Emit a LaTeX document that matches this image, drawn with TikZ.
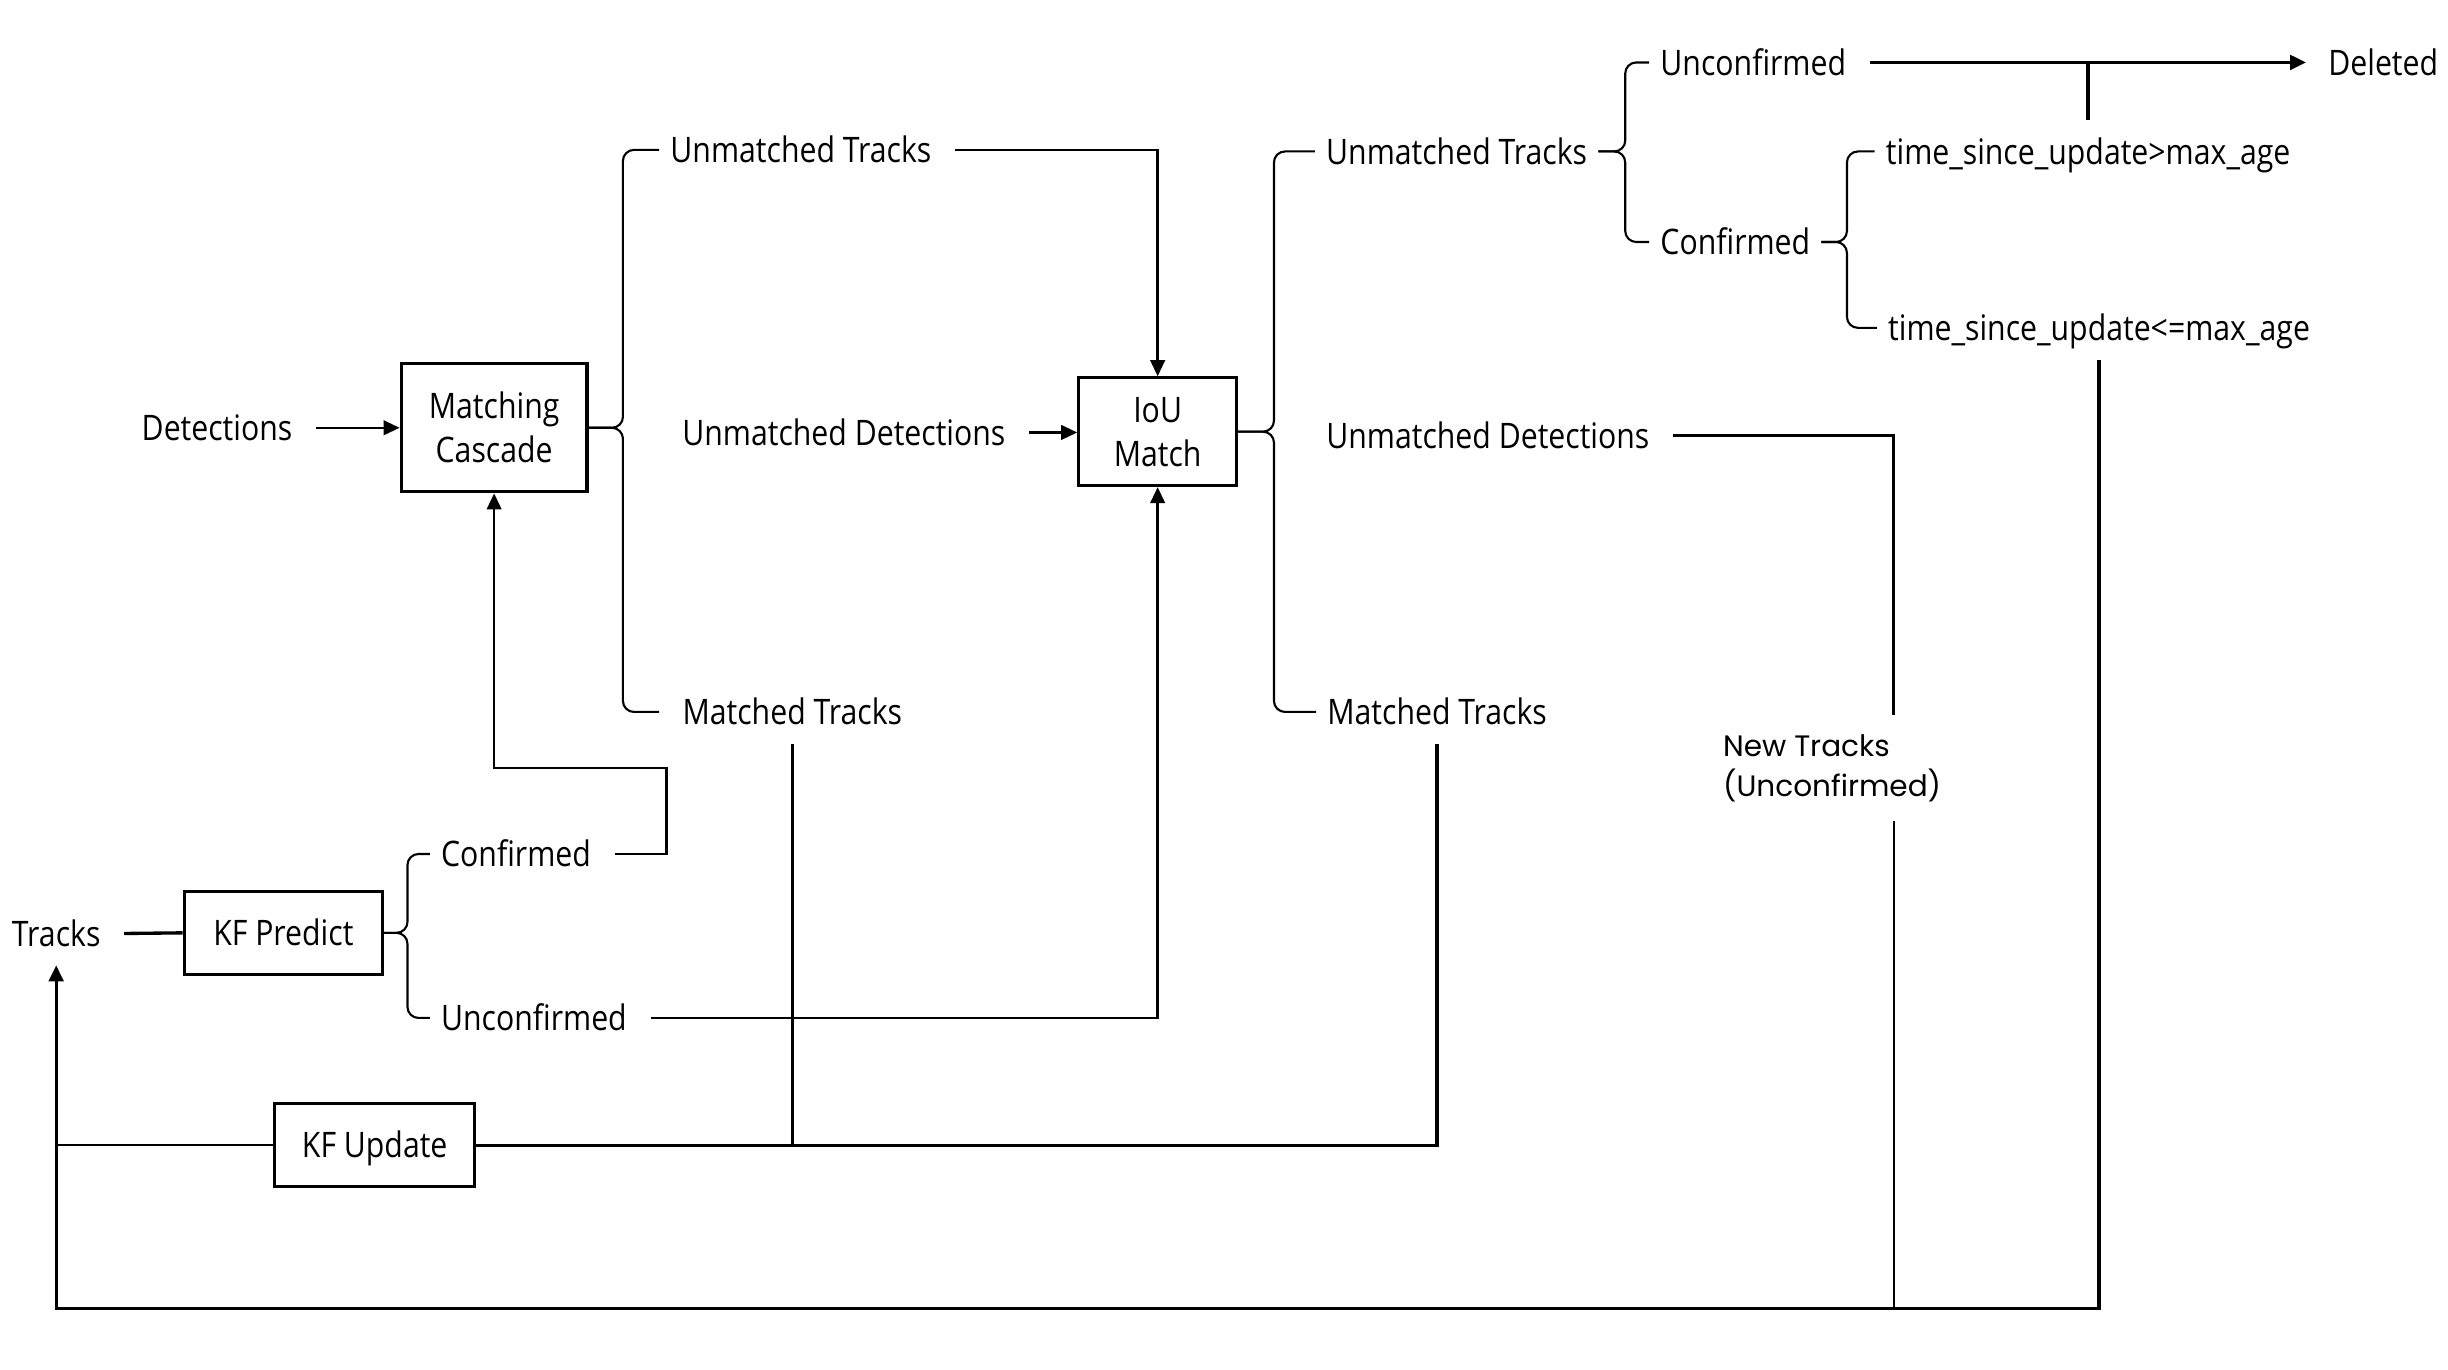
\documentclass[tikz,border=0pt]{standalone}
\usepackage{fontspec}
\setmainfont{Open Sans}[FakeStretch=0.86]
\newfontfamily\newtrkfont{Poppins}
\usetikzlibrary{arrows.meta}
\newcommand\pxu{0.031224}
\begin{document}
\begin{tikzpicture}[x=\pxu cm, y=-\pxu cm,
  lbl/.style={inner xsep=0.219cm, inner ysep=0.375cm, text height=14.3pt, text depth=0pt,
              font=\fontsize{20}{24}\selectfont},
  ntl/.style={inner xsep=0pt, inner ysep=0.375cm, align=left,
              font=\newtrkfont\fontsize{16.8}{23}\selectfont},
  box/.style={draw, line width=1.8pt, inner sep=0pt, align=center,
              font=\fontsize{20}{25}\selectfont},
  oneline/.style={text height=14.3pt, text depth=0pt},
  conn/.style={line width=1.4pt},
  heavy/.style={line width=1.9pt},
  hair/.style={line width=0.9pt},
  brc/.style={line width=1.2pt, rounded corners=0.22cm},
  tip/.style={-{Triangle[length=0.32cm, width=0.29cm]}},
  lfrom/.style={shorten <=0.25cm},
]
\useasboundingbox (0,0) rectangle (1568,877.5);

% processing blocks
\node[box, minimum width=3.716cm, minimum height=2.560cm] (mc) at (316.5,274) {Matching\\Cascade};
\node[box, minimum width=3.154cm, minimum height=2.154cm] (iou) at (741.5,276.5) {IoU\\Match};
\node[box, oneline, minimum width=3.965cm, minimum height=1.655cm] (kfp) at (181.5,597.5) {KF Predict};
\node[box, oneline, minimum width=3.997cm, minimum height=1.655cm] (kfu) at (240,733.5) {KF Update};

% labels
\node[lbl] (det)  at (139,274)    {Detections};
\node[lbl] (ut1)  at (513,96)     {Unmatched Tracks};
\node[lbl] (ud1)  at (540.5,277)  {Unmatched Detections};
\node[lbl] (mt1)  at (507.5,456)  {Matched Tracks};
\node[lbl] (ut2)  at (933,97)     {Unmatched Tracks};
\node[lbl] (ud2)  at (953,279)    {Unmatched Detections};
\node[lbl] (mt2)  at (920.5,456)  {Matched Tracks};
\node[lbl] (uc3)  at (1123,40)    {Unconfirmed};
\node[lbl] (cf3)  at (1111.5,155) {Confirmed};
\node[lbl] (del)  at (1526.5,40)  {Deleted};
\node[lbl] (tsu1) at (1337.5,97)  {time\_since\_update>max\_age};
\node[lbl] (tsu2) at (1344.5,210) {time\_since\_update<=max\_age};
\node[lbl] (tr)   at (36,598)     {Tracks};
\node[lbl] (cf5)  at (330.5,547)  {Confirmed};
\node[lbl] (uc5)  at (342,652)    {Unconfirmed};
\node[ntl] (nt)   at (1173.5,492) {New Tracks\\(Unconfirmed)};

% brace spines and routing points
\coordinate (sp1) at (399,0);
\coordinate (sp2) at (816,0);
\coordinate (sp3) at (1041,0);
\coordinate (sp4) at (1183,0);
\coordinate (sp5) at (261,0);
\coordinate (j1)  at (427,492);
\coordinate (ntx) at (1213,0);
\coordinate (bot) at (36,838);

% braces
\draw[brc] (ut1.west) -| (mc.east -| sp1) -- (mc.east);
\draw[brc] (mt1.west -| ut1.west) -| (mc.east -| sp1) -- (mc.east);
\draw[brc] (ut2.west) -| (iou.east -| sp2) -- (iou.east);
\draw[brc] (mt2.west) -| (iou.east -| sp2) -- (iou.east);
\draw[brc] (uc3.west) -| (ut2.east -| sp3) -- (ut2.east);
\draw[brc] (cf3.west) -| (ut2.east -| sp3) -- (ut2.east);
\draw[brc] (tsu1.west) -| (cf3.east -| sp4) -- (cf3.east);
\draw[brc] (tsu2.west) -| (cf3.east -| sp4) -- (cf3.east);
\draw[brc] (cf5.west) -| (kfp.east -| sp5) -- (kfp.east);
\draw[brc] (uc5.west) -| (kfp.east -| sp5) -- (kfp.east);

% connectors
\draw[conn, tip, lfrom] (det.east) -- (mc.west);
\draw[conn, tip, lfrom] (ut1.east) -| (iou.north);
\draw[conn, tip, lfrom] (ud1.east) -- (ud1.east -| iou.west);
\draw[conn, tip, lfrom] (cf5.east) -| (j1) -| (mc.south);
\draw[conn, tip, lfrom] (uc5.east) -| (iou.south);
\draw[conn] (mt1.south) -- (mt1.south |- kfu.east);
\draw[heavy] (mt2.south) |- (kfu.east);
\draw[conn] (kfu.west) -- (kfu.west -| tr.south);
\draw[heavy, lfrom] (tr.east) -- (kfp.west);
\draw[heavy, lfrom] (ud2.east) -| (nt.north -| ntx);
\draw[hair] (nt.south -| ntx) -- (ntx |- bot);
\draw[heavy, tip] (tsu2.south) -- (tsu2.south |- bot) -| (tr.south);
\draw[heavy, tip, lfrom, shorten >=0.219cm] (uc3.east) -- (del.west);
\draw[heavy] (tsu1.north) -- (tsu1.north |- uc3.east);
\end{tikzpicture}
\end{document}
